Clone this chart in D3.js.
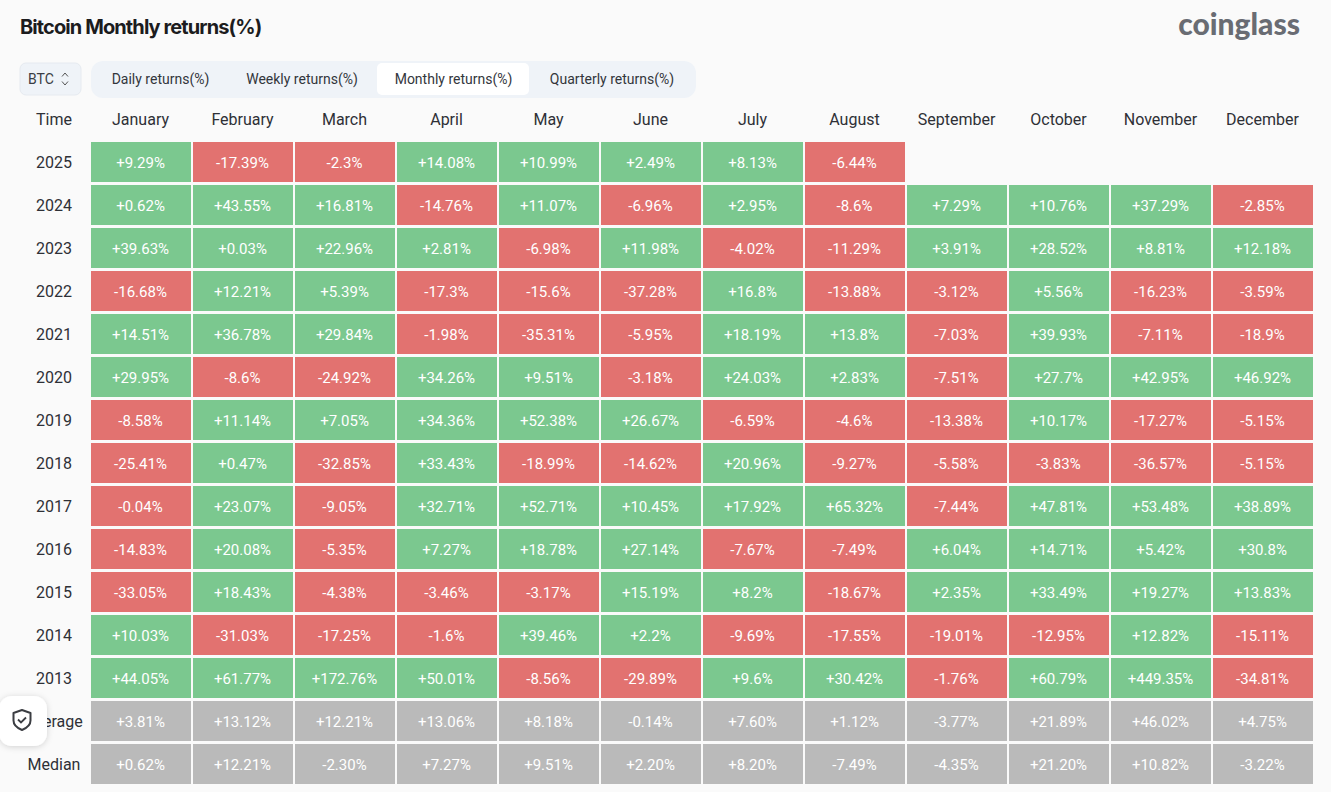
<!DOCTYPE html>
<html><head><meta charset="utf-8">
<script src="https://cdn.jsdelivr.net/npm/d3@7"></script>
<style>html,body{margin:0;padding:0;background:#fafafa;overflow:hidden}svg{display:block}</style>
</head><body><svg id="c" width="1331" height="792"></svg>
<script>
const months=["January","February","March","April","May","June","July","August","September","October","November","December"];
const rowLabels=["2025","2024","2023","2022","2021","2020","2019","2018","2017","2016","2015","2014","2013","Average","Median"];
const r2025=[9.29,-17.39,-2.3,14.08,10.99,2.49,8.13,-6.44,null,null,null,null];
const r2024=[0.62,43.55,16.81,-14.76,11.07,-6.96,2.95,-8.6,7.29,10.76,37.29,-2.85];
const r2023=[39.63,0.03,22.96,2.81,-6.98,11.98,-4.02,-11.29,3.91,28.52,8.81,12.18];
const r2022=[-16.68,12.21,5.39,-17.3,-15.6,-37.28,16.8,-13.88,-3.12,5.56,-16.23,-3.59];
const r2021=[14.51,36.78,29.84,-1.98,-35.31,-5.95,18.19,13.8,-7.03,39.93,-7.11,-18.9];
const r2020=[29.95,-8.6,-24.92,34.26,9.51,-3.18,24.03,2.83,-7.51,27.7,42.95,46.92];
const r2019=[-8.58,11.14,7.05,34.36,52.38,26.67,-6.59,-4.6,-13.38,10.17,-17.27,-5.15];
const r2018=[-25.41,0.47,-32.85,33.43,-18.99,-14.62,20.96,-9.27,-5.58,-3.83,-36.57,-5.15];
const r2017=[-0.04,23.07,-9.05,32.71,52.71,10.45,17.92,65.32,-7.44,47.81,53.48,38.89];
const r2016=[-14.83,20.08,-5.35,7.27,18.78,27.14,-7.67,-7.49,6.04,14.71,5.42,30.8];
const r2015=[-33.05,18.43,-4.38,-3.46,-3.17,15.19,8.2,-18.67,2.35,33.49,19.27,13.83];
const r2014=[10.03,-31.03,-17.25,-1.6,39.46,2.2,-9.69,-17.55,-19.01,-12.95,12.82,-15.11];
const r2013=[44.05,61.77,172.76,50.01,-8.56,-29.89,9.6,30.42,-1.76,60.79,449.35,-34.81];
const average=[3.81,13.12,12.21,13.06,8.18,-0.14,7.6,1.12,-3.77,21.89,46.02,4.75];
const median=[0.62,12.21,-2.3,7.27,9.51,2.2,8.2,-7.49,-4.35,21.2,10.82,-3.22];
const yearRows=[r2025,r2024,r2023,r2022,r2021,r2020,r2019,r2018,r2017,r2016,r2015,r2014,r2013];
const tabs=["Daily returns(%)","Weekly returns(%)","Monthly returns(%)","Quarterly returns(%)"];

const GREEN="#7bc88f",RED="#e27270",GREY="#bababa",FONT="Roboto, sans-serif";
const svg=d3.select("#c");
const x=d3.scaleBand().domain(months).range([91,1313]).paddingInner(2/102);
const y=d3.scaleBand().domain(rowLabels).range([142,784]).paddingInner(3/43);

const cells=[];
yearRows.concat([average,median]).forEach((vals,ri)=>vals.forEach((v,ci)=>{
  if(v===null)return;
  const summary=ri>=yearRows.length;
  cells.push({row:rowLabels[ri],month:months[ci],v,summary});
}));
const fmt=d=>(d.v>=0?"+":"")+(d.summary?d.v.toFixed(2):String(d.v))+"%";

// title and logo
svg.append("text").attr("x",20).attr("y",34).text("Bitcoin Monthly returns(%)")
  .attr("font-family","Inter, sans-serif").attr("font-weight",700).attr("font-size",20).attr("letter-spacing",-0.9).attr("fill","#1c1c1e");
svg.append("text").attr("x",1300).attr("y",35).attr("text-anchor","end").text("coinglass")
  .attr("font-family","Lato, sans-serif").attr("font-weight",900).attr("font-size",30).attr("fill","#696c73");

// selector
svg.append("rect").attr("x",20).attr("y",63).attr("width",61).attr("height",32).attr("rx",6).attr("fill","#eff3f8").attr("stroke","#e6eaf0");
svg.append("text").attr("x",28).attr("y",84).text("BTC").attr("font-family",FONT).attr("font-size",14).attr("fill","#3a3d44");
svg.append("path").attr("d","M62 76.5l3-3.5 3 3.5M62 81.5l3 3.5 3-3.5").attr("fill","none").attr("stroke","#555").attr("stroke-width",1);

// tabs
svg.append("rect").attr("x",91).attr("y",61).attr("width",605).attr("height",37).attr("rx",12).attr("fill","#eff3f8");
svg.append("rect").attr("x",377).attr("y",63).attr("width",152).attr("height",32).attr("rx",5).attr("fill","#fff");
const tabX=[160.5,302,453.5,612];
svg.selectAll("text.tab").data(tabs).join("text").attr("class","tab")
  .attr("x",(d,i)=>tabX[i]).attr("y",84).attr("text-anchor","middle").text(d=>d)
  .attr("font-family",FONT).attr("font-size",14).attr("fill","#33363c");

// header
svg.append("text").attr("x",54).attr("y",125).attr("text-anchor","middle").text("Time")
  .attr("font-family",FONT).attr("font-size",16).attr("fill","#2e3036");
svg.selectAll("text.month").data(months).join("text").attr("class","month")
  .attr("x",d=>x(d)+x.bandwidth()/2-0.5).attr("y",125).attr("text-anchor","middle").text(d=>d)
  .attr("font-family",FONT).attr("font-size",16).attr("fill","#2e3036");

// row labels
svg.selectAll("text.rowl").data(rowLabels).join("text").attr("class","rowl")
  .attr("x",54).attr("y",d=>y(d)+y.bandwidth()/2+6).attr("text-anchor","middle").text(d=>d)
  .attr("font-family",FONT).attr("font-size",16).attr("fill","#2e3036");

// cells
svg.selectAll("rect.cell").data(cells).join("rect").attr("class","cell")
  .attr("x",d=>x(d.month)).attr("y",d=>y(d.row)).attr("width",x.bandwidth()).attr("height",y.bandwidth())
  .attr("fill",d=>d.summary?GREY:(d.v>=0?GREEN:RED));
svg.selectAll("text.val").data(cells).join("text").attr("class","val")
  .attr("x",d=>x(d.month)+x.bandwidth()/2-0.5).attr("y",d=>y(d.row)+y.bandwidth()/2+5.5)
  .attr("text-anchor","middle").text(fmt)
  .attr("font-family",FONT).attr("font-size",15).attr("fill","#fff");

// floating shield badge
const defs=svg.append("defs");
const f=defs.append("filter").attr("id","sh").attr("x","-30%").attr("y","-30%").attr("width","160%").attr("height","160%");
f.append("feDropShadow").attr("dx",0).attr("dy",1).attr("stdDeviation",3).attr("flood-color","#000").attr("flood-opacity",0.16);
svg.append("rect").attr("x",-1).attr("y",696).attr("width",48).attr("height",50).attr("rx",13).attr("fill","#fff").attr("filter","url(#sh)");
svg.append("path").attr("d","M13.500 713l8.500-3 8.500 3v7.500c0 5-3.500 7.500-8.500 9.500c-5-2-8.500-4.500-8.500-9.500z").attr("fill","none").attr("stroke","#3b3d42").attr("stroke-width",2).attr("stroke-linejoin","round");
svg.append("path").attr("d","M18 719.500l3 3 5-5").attr("fill","none").attr("stroke","#3b3d42").attr("stroke-width",1.800);
</script></body></html>
